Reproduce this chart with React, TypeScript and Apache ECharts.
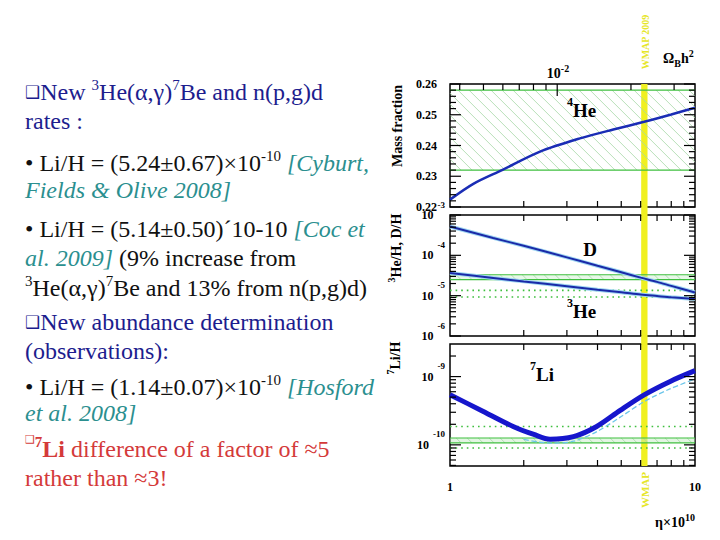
import React, { useEffect, useRef } from "react";
import * as echarts from "echarts";

const SERIF = "'Liberation Serif', 'Times New Roman', serif";

// ---------- x axis: eta x 10^10 (log) ----------
const etaMin = 1;
const etaMax = 10;
const etaMinorTicks = [2, 3, 4, 5, 6, 7, 8, 9];
// top axis: Omega_B h^2
const omegaMinorTicks = [0.004, 0.005, 0.006, 0.007, 0.008, 0.009, 0.02, 0.03];
const omegaMajorTicks = [0.01];
const ETA_PER_OMEGA = 273.9;
const wmapBand = [6.03, 6.4];

// ---------- panel 1: 4He mass fraction ----------
const heRange = [0.22, 0.26];
const heMajorTicks = [0.22, 0.23, 0.24, 0.25, 0.26];
const heMinorTicks = [0.222, 0.224, 0.226, 0.228, 0.232, 0.234, 0.236, 0.238, 0.242, 0.244, 0.246, 0.248, 0.252, 0.254, 0.256, 0.258];
const etaHe4 = [1, 1.25, 1.63, 2.33, 3.39, 4.64, 6.2, 8, 10];
const yHe4 = [0.2224, 0.2276, 0.232, 0.238, 0.2423, 0.2452, 0.2477, 0.2501, 0.2523];
const he4Band = [0.232, 0.258];

// ---------- panel 2: D/H and 3He/H ----------
const dRange = [1e-6, 1e-3];
const dDecades = [1e-6, 1e-5, 1e-4, 1e-3];
const dExponents = ["-6", "-5", "-4", "-3"];
const etaDHe3 = [1, 1.5, 2, 3, 4, 5, 6, 7, 8, 10];
const yD = [5.2e-4, 2.7e-4, 1.72e-4, 8.9e-5, 5.5e-5, 3.8e-5, 2.8e-5, 2.2e-5, 1.75e-5, 1.2e-5];
const yHe3 = [3.65e-5, 2.75e-5, 2.26e-5, 1.72e-5, 1.41e-5, 1.22e-5, 1.07e-5, 9.8e-6, 9.1e-6, 8.3e-6];
const dBand = [2.5e-5, 3.3e-5];
const he3Dotted = [9.3e-6, 1.35e-5];

// ---------- panel 3: 7Li/H ----------
const liRange = [4.9e-11, 3.0e-9];
const liDecades = [1e-11, 1e-10, 1e-9];
const liLabelValues = [1e-10, 1e-9];
const liExponents = ["-10", "-9"];
const etaLi = [1, 1.33, 1.81, 2.2, 2.56, 3.19, 3.97, 4.95, 6.2, 7.92, 10];
const yLi = [5.4e-10, 3.25e-10, 1.86e-10, 1.42e-10, 1.21e-10, 1.32e-10, 1.86e-10, 3.2e-10, 5.4e-10, 8.5e-10, 1.22e-9];
const etaLiLow = [2.0, 2.3, 2.6, 3.2, 4.0, 5.0, 6.2, 7.9, 10];
const yLiLow = [1.2e-10, 1.1e-10, 1.06e-10, 1.13e-10, 1.58e-10, 2.6e-10, 4.3e-10, 6.6e-10, 9.2e-10];
const liBand = [1.07e-10, 1.26e-10];
const liDotted = [0.9e-10, 1.86e-10];

const logMantissas = [2, 3, 4, 5, 6, 7, 8, 9];

const BLUE_TXT = "#1d1d8e";
const TEAL = "#2b8f8f";
const RED = "#d43a3a";
const BLACK = "#111";
const GREEN = "#3fbf3f";
const HATCH = "#a8d8a8";
const YELLOW = "#f0f020";

function logMinor(decades: number[], range: number[]) {
  const out: number[] = [];
  decades.forEach((d) => logMantissas.forEach((m) => {
    const v = m * d;
    if (v > range[0] && v < range[1]) out.push(v);
  }));
  return out;
}

const tickStyle = { stroke: "#000", lineWidth: 1.2 };

function yTickSeries(g: number, major: number[], minor: number[]) {
  const data = major.map((v) => [etaMin, v, 1]).concat(minor.map((v) => [etaMin, v, 0]));
  return {
    type: "custom", xAxisIndex: g, yAxisIndex: g, z: 6, silent: true, clip: false, data,
    renderItem: (_p: any, api: any) => {
      const v = api.value(1);
      const len = api.value(2) ? 11 : 6;
      const a = api.coord([etaMin, v]);
      const b = api.coord([etaMax, v]);
      return {
        type: "group",
        children: [
          { type: "line", shape: { x1: a[0], y1: a[1], x2: a[0] + len, y2: a[1] }, style: tickStyle },
          { type: "line", shape: { x1: b[0], y1: b[1], x2: b[0] - len, y2: b[1] }, style: tickStyle },
        ],
      };
    },
  };
}

function xTickSeries(g: number, ticks: number[][], yv: number, dir: number) {
  return {
    type: "custom", xAxisIndex: g, yAxisIndex: g, z: 6, silent: true, clip: false,
    data: ticks.map(([e, m]) => [e, yv, m]),
    renderItem: (_p: any, api: any) => {
      const len = api.value(2) ? 12 : 6;
      const a = api.coord([api.value(0), api.value(1)]);
      return { type: "line", shape: { x1: a[0], y1: a[1], x2: a[0], y2: a[1] + dir * len }, style: tickStyle };
    },
  };
}

function yLabelSeries(g: number, values: number[], exps: string[]) {
  return {
    type: "custom", xAxisIndex: g, yAxisIndex: g, z: 6, silent: true, clip: false,
    data: values.map((v, i) => [etaMin, v, i]),
    renderItem: (_p: any, api: any) => {
      const a = api.coord([etaMin, api.value(1)]);
      const e = exps[api.value(2)];
      return {
        type: "text", x: a[0] - 5, y: a[1],
        style: {
          text: `{m|10}{e|${e}}`, align: "right", verticalAlign: "middle",
          rich: {
            m: { fontSize: 12, fontWeight: "bold", fontFamily: SERIF, fill: "#000", lineHeight: 30 },
            e: { fontSize: 9, fontWeight: "bold", fontFamily: SERIF, fill: "#000", lineHeight: 12, verticalAlign: "top", padding: [0, 0, 0, 4] },
          },
        },
      };
    },
  };
}

function wmapSeries(g: number, range: number[], extTop: number, extBottom: number) {
  return {
    type: "custom", xAxisIndex: g, yAxisIndex: g, z: 1, silent: true, clip: false,
    data: [[wmapBand[0], range[0], wmapBand[1], range[1]]],
    renderItem: (_p: any, api: any) => {
      const a = api.coord([api.value(0), api.value(3)]);
      const b = api.coord([api.value(2), api.value(1)]);
      return {
        type: "rect",
        shape: { x: a[0], y: a[1] - extTop, width: b[0] - a[0], height: b[1] - a[1] + extTop + extBottom },
        style: { fill: YELLOW },
      };
    },
  };
}

function bandSeries(g: number, band: number[], fill: string) {
  return {
    type: "custom", xAxisIndex: g, yAxisIndex: g, z: 2, silent: true, clip: false,
    data: [[etaMin, band[0], etaMax, band[1]]],
    renderItem: (_p: any, api: any) => {
      const a = api.coord([api.value(0), api.value(3)]);
      const b = api.coord([api.value(2), api.value(1)]);
      const left = a[0], top = a[1], right = b[0], bottom = b[1];
      const h = bottom - top;
      const children: any[] = [];
      if (fill) children.push({ type: "rect", shape: { x: left, y: top, width: right - left, height: h }, style: { fill } });
      for (let k = left - h; k <= right; k += 11) {
        let x1 = k, y1 = top, x2 = k + h, y2 = bottom;
        if (x1 < left) { y1 += left - x1; x1 = left; }
        if (x2 > right) { y2 -= x2 - right; x2 = right; }
        if (x2 > x1) children.push({ type: "line", shape: { x1, y1, x2, y2 }, style: { stroke: HATCH, lineWidth: 0.8 } });
      }
      children.push({ type: "line", shape: { x1: left, y1: top, x2: right, y2: top }, style: { stroke: GREEN, lineWidth: 1.2 } });
      children.push({ type: "line", shape: { x1: left, y1: bottom, x2: right, y2: bottom }, style: { stroke: GREEN, lineWidth: 1.2 } });
      return { type: "group", children };
    },
  };
}

function dottedSeries(g: number, values: number[]) {
  return {
    type: "custom", xAxisIndex: g, yAxisIndex: g, z: 2, silent: true, clip: false,
    data: values.map((v) => [etaMin, v]),
    renderItem: (_p: any, api: any) => {
      const a = api.coord([etaMin, api.value(1)]);
      const b = api.coord([etaMax, api.value(1)]);
      return { type: "line", shape: { x1: a[0], y1: a[1], x2: b[0], y2: b[1] }, style: { stroke: GREEN, lineWidth: 1.6, lineDash: [1.6, 4] } };
    },
  };
}

function curve(g: number, xs: number[], ys: number[], color: string, width: number, z: number, type = "solid") {
  return {
    type: "line", xAxisIndex: g, yAxisIndex: g, z, silent: true,
    data: xs.map((x, i) => [x, ys[i]]),
    smooth: 0.3, showSymbol: false, symbol: "none",
    lineStyle: { color, width, type },
  };
}

// ---------- slide text ----------
const tok = (fill: string, fontSize: number, lineHeight: number, extra: any = {}) => ({
  fontFamily: SERIF, fontSize, fill, lineHeight, fontWeight: "normal", ...extra,
});
const RICH: any = {
  box: tok(BLUE_TXT, 17, 30, { fontFamily: "DejaVu Sans" }),
  b: tok(BLUE_TXT, 24, 30),
  bs: tok(BLUE_TXT, 15, 22, { verticalAlign: "top" }),
  k: tok(BLACK, 24, 30),
  ks: tok(BLACK, 15, 22, { verticalAlign: "top" }),
  t: tok(TEAL, 24, 30, { fontStyle: "italic" }),
  r: tok(RED, 24, 30),
  rb: tok(RED, 24, 30, { fontWeight: "bold" }),
  rs: tok(RED, 15, 22, { fontWeight: "bold", verticalAlign: "top" }),
  rbox: tok(RED, 11, 20, { fontFamily: "DejaVu Sans", verticalAlign: "top" }),
};

const slideLines: [number, string][] = [
  [92, "{box|❑}{b|New }{bs|3}{b|He(α,γ)}{bs|7}{b|Be and n(p,g)d}"],
  [121, "{b|rates :}"],
  [163, "{k|• Li/H = (5.24±0.67)×10}{ks|-10}{t| [Cyburt,}"],
  [190, "{t|Fields & Olive 2008]}"],
  [229, "{k|• Li/H = (5.14±0.50)´10-10 }{t|[Coc et}"],
  [258, "{t|al. 2009]}{k| (9% increase from}"],
  [288, "{ks|3}{k|He(α,γ)}{ks|7}{k|Be and 13% from n(p,g)d)}"],
  [322, "{box|❑}{b|New abundance determination}"],
  [351, "{b|(observations):}"],
  [387, "{k|• Li/H = (1.14±0.07)×10}{ks|-10}{t| [Hosford}"],
  [413, "{t|et al. 2008]}"],
  [449, "{rbox|❑}{rs|7}{rb|Li}{r| difference of a factor of ≈5}"],
  [478, "{r|rather than ≈3!}"],
];

const lb = (fontSize: number, lineHeight: number, extra: any = {}) => ({
  fontFamily: SERIF, fontSize, fill: "#000", lineHeight, fontWeight: "bold", ...extra,
});
const LB: any = {
  t: lb(14, 20),
  s: lb(10, 14, { verticalAlign: "top" }),
  big: lb(19, 28),
  bs: lb(12, 20, { verticalAlign: "top" }),
  sub: lb(10, 14, { verticalAlign: "bottom" }),
};

function label(x: number, y: number, text: string, align = "left", rotation = 0) {
  return { type: "text", x, y, rotation, z: 10, style: { text, rich: LB, align, verticalAlign: "middle" } };
}

function buildOption() {
  const tops = [84, 215, 344];
  const heights = [123, 121, 122];
  const ranges = [heRange, dRange, liRange];
  const grid = tops.map((t, i) => ({
    left: 450, width: 245, top: t, height: heights[i], show: true,
    borderColor: "#000", borderWidth: 1.5, backgroundColor: "transparent", containLabel: false,
  }));
  const hidden = { axisLine: { show: false }, axisTick: { show: false }, splitLine: { show: false }, minorTick: { show: false }, minorSplitLine: { show: false } };
  const xAxis = [0, 1, 2].map((i) => ({
    type: "log", logBase: 10, gridIndex: i, min: etaMin, max: etaMax, ...hidden,
    axisLabel: i === 2
      ? { show: true, margin: 15, fontSize: 12, fontWeight: "bold", color: "#000", fontFamily: SERIF, formatter: (v: number) => String(Math.round(v)) }
      : { show: false },
  }));
  const yAxis = [
    { type: "value", gridIndex: 0, min: heRange[0], max: heRange[1], interval: 0.01, ...hidden,
      axisLabel: { show: true, margin: 13, fontSize: 12, fontWeight: "bold", color: "#000", fontFamily: SERIF, formatter: (v: number) => v.toFixed(2) } },
    { type: "log", logBase: 10, gridIndex: 1, min: dRange[0], max: dRange[1], ...hidden, axisLabel: { show: false } },
    { type: "log", logBase: 10, gridIndex: 2, min: liRange[0], max: liRange[1], ...hidden, axisLabel: { show: false } },
  ];

  const etaTicks = etaMinorTicks.map((e) => [e, 0]);
  const omegaTicks = omegaMinorTicks.map((o) => [o * ETA_PER_OMEGA, 0]).concat(omegaMajorTicks.map((o) => [o * ETA_PER_OMEGA, 1]));

  const series: any[] = [
    wmapSeries(0, ranges[0], 0, 4),
    wmapSeries(1, ranges[1], 4, 4),
    wmapSeries(2, ranges[2], 4, 0),
    bandSeries(0, he4Band, ""),
    bandSeries(1, dBand, "rgba(190,235,190,0.35)"),
    dottedSeries(1, he3Dotted),
    bandSeries(2, liBand, "rgba(190,235,190,0.45)"),
    dottedSeries(2, liDotted),
    curve(0, etaHe4, yHe4, "#1a2db5", 2.5, 4),
    curve(1, etaDHe3, yD, "#9fd6f2", 4, 3),
    curve(1, etaDHe3, yD, "#1a2aa8", 2, 4),
    curve(1, etaDHe3, yHe3, "#9fd6f2", 4, 3),
    curve(1, etaDHe3, yHe3, "#1a2aa8", 2, 4),
    curve(2, etaLiLow, yLiLow, "#6cc6ea", 1.3, 3, "dashed"),
    curve(2, etaLi, yLi, "#1616cc", 5, 4),
    yTickSeries(0, heMajorTicks, heMinorTicks),
    yTickSeries(1, dDecades, logMinor(dDecades, dRange)),
    yTickSeries(2, liDecades.filter((d) => d > liRange[0] && d < liRange[1]), logMinor(liDecades, liRange)),
    xTickSeries(0, omegaTicks, heRange[1], 1),
    xTickSeries(0, etaTicks, heRange[0], -1),
    xTickSeries(1, etaTicks, dRange[1], 1),
    xTickSeries(1, etaTicks, dRange[0], -1),
    xTickSeries(2, etaTicks, liRange[1], 1),
    xTickSeries(2, etaTicks, liRange[0], -1),
    yLabelSeries(1, dDecades, dExponents),
    yLabelSeries(2, liLabelValues, liExponents),
  ];

  const elements: any[] = slideLines.map(([y, text]) => ({
    type: "text", x: 25, y, z: 10, style: { text, rich: RICH, align: "left", verticalAlign: "middle" },
  }));
  elements.push(
    label(397, 126, "{t|Mass fraction}", "center", Math.PI / 2),
    label(396, 248, "{s|3}{t|He/H, D/H}", "center", Math.PI / 2),
    label(395, 358, "{s|7}{t|Li/H}", "center", Math.PI / 2),
    label(567, 110, "{bs|4}{big|He}"),
    label(590, 249, "{big|D}", "center"),
    label(567, 311, "{bs|3}{big|He}"),
    label(530, 374, "{bs|7}{big|Li}"),
    label(558, 73, "{t|10}{s|-2}", "center"),
    label(663, 58, "{t|Ω}{sub|B}{t|h}{s|2}"),
    label(655, 522, "{t|η×10}{s|10}"),
    { type: "text", x: 645, y: 42, rotation: Math.PI / 2, z: 10,
      style: { text: "WMAP 2009", fill: "#e6e628", font: `bold 10px ${SERIF}`, align: "center", verticalAlign: "middle" } },
    { type: "text", x: 645, y: 490, rotation: Math.PI / 2, z: 10,
      style: { text: "WMAP", fill: "#e6e628", font: `bold 11px ${SERIF}`, align: "center", verticalAlign: "middle" } },
  );

  return {
    animation: false,
    backgroundColor: "#fff",
    textStyle: { fontFamily: SERIF },
    grid, xAxis, yAxis, series,
    graphic: { elements },
  };
}

export default function App() {
  const ref = useRef<HTMLDivElement>(null);
  useEffect(() => {
    if (!ref.current) return;
    const chart = echarts.init(ref.current, null, { renderer: "svg" });
    chart.setOption(buildOption() as any);
    return () => chart.dispose();
  }, []);
  return (
    <div
      ref={ref}
      style={{ position: "fixed", left: 0, top: 0, width: 720, height: 540, background: "#fff" }}
    />
  );
}
